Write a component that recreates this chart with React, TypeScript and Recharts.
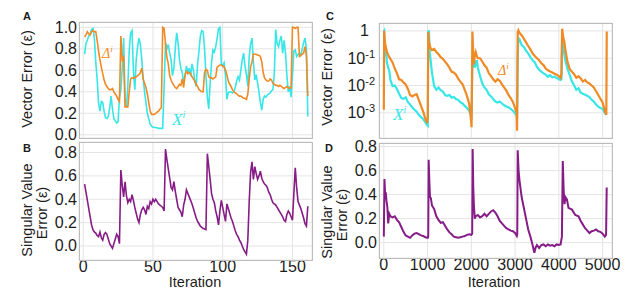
import { LineChart, Line, XAxis, YAxis, CartesianGrid } from "recharts";

const CYAN = "#38e6e8";
const ORANGE = "#f08a24";
const PURPLE = "#861c86";
const INK = "#1c1c1c";
const FONT = "'Liberation Sans', Arial, sans-serif";
const SERIF = "'Liberation Serif', 'Times New Roman', serif";

// ---- panels A / B : iterations 1..161 ----
const ITER_AB = Array.from({ length: 161 }, (_, i) => i + 1);

const XI_A = [
  0.75, 0.85, 0.88, 0.92, 0.94, 0.98, 0.99, 0.9, 0.68, 0.52,
  0.3, 0.22, 0.31, 0.3, 0.22, 0.16, 0.15, 0.17, 0.25, 0.36,
  0.24, 0.15, 0.13, 0.11, 0.12, 0.35, 0.42, 0.62, 0.9, 0.34,
  0.26, 0.45, 0.78, 0.95, 0.97, 0.6, 0.42, 0.7, 0.82, 0.9,
  0.84, 0.7, 0.52, 0.4, 0.3, 0.2, 0.15, 0.1, 0.08, 0.07,
  0.07, 0.065, 0.065, 0.06, 0.06, 0.06, 0.06, 0.45, 0.86, 0.8,
  0.84, 0.76, 0.7, 0.55, 0.62, 0.8, 0.95, 0.86, 0.7, 0.62,
  0.58, 0.48, 0.55, 0.64, 0.58, 0.62, 0.55, 0.66, 0.6, 0.5,
  0.45, 0.66, 0.78, 0.92, 0.97, 0.96, 0.8, 0.55, 0.35, 0.24,
  0.48, 0.67, 0.79, 0.77, 0.82, 0.9, 0.99, 1.0, 0.66, 0.64,
  0.67, 0.55, 0.33, 0.39, 0.4, 0.4, 0.39, 0.4, 0.44, 0.5,
  0.54, 0.51, 0.6, 0.7, 0.76, 0.64, 0.56, 0.45, 0.73, 0.85,
  0.9, 0.68, 0.51, 0.56, 0.48, 0.4, 0.3, 0.23, 0.33, 0.36,
  0.35, 0.37, 0.38, 0.39, 0.41, 0.42, 0.57, 0.98, 0.85, 0.82,
  0.88, 0.92, 0.76, 0.88, 0.76, 0.55, 0.4, 0.45, 0.35, 0.55,
  0.78, 0.79, 0.73, 0.75, 0.76, 0.74, 0.8, 0.86, 0.9, 0.8,
  0.17,
];

const DELTA_A = [
  0.91, 0.93, 0.96, 0.94, 0.93, 0.96, 0.97, 0.96, 0.96, 0.88,
  0.78, 0.7, 0.63, 0.57, 0.51, 0.47, 0.45, 0.43, 0.42, 0.42,
  0.43, 0.4, 0.38, 0.36, 0.33, 0.31, 0.92, 0.7, 0.72, 0.26,
  0.26, 0.26, 0.4, 0.52, 0.53, 0.53, 0.53, 0.54, 0.55, 0.56,
  0.58, 0.62, 0.52, 0.48, 0.44, 0.38, 0.3, 0.22, 0.19, 0.19,
  0.19, 0.2, 0.21, 0.22, 0.24, 0.25, 1.0, 0.99, 0.85, 0.72,
  0.66, 0.55, 0.51, 0.48, 0.46, 0.44, 0.43, 0.45, 0.47, 0.46,
  0.52, 0.44, 0.56, 0.59, 0.57, 0.58, 0.57, 0.54, 0.52, 0.5,
  0.47, 0.45, 0.42, 0.41, 0.4, 0.4, 0.58, 0.61, 0.6, 0.54,
  0.53, 0.53, 0.52, 0.53, 0.54, 0.63, 0.64, 0.65, 0.65, 0.64,
  0.63, 0.6, 0.56, 0.5, 0.47, 0.45, 0.42, 0.4, 0.39, 0.38,
  0.37, 0.36, 0.36, 0.35, 0.34, 0.34, 0.33, 0.38, 0.52, 0.63,
  0.68, 0.75, 0.75, 0.75, 0.74, 0.74, 0.73, 0.68, 0.58, 0.53,
  0.51, 0.5, 0.5, 0.52, 0.51, 0.48, 0.47, 0.46, 0.46, 0.45,
  0.46, 0.45, 0.44, 0.43, 0.44, 0.45, 0.44, 0.43, 0.44, 1.0,
  1.0, 0.99, 1.0, 1.0, 0.73, 0.74, 0.75, 0.76, 0.82, 0.74,
  0.36,
];

const SV_B = [
  0.53, 0.46, 0.39, 0.32, 0.25, 0.18, 0.14, 0.12, 0.11, 0.09,
  0.08, 0.12, 0.07, 0.05, 0.1, 0.115, 0.1, 0.06, 0.02, 0.0,
  -0.02, 0.02, 0.06, 0.1, 0.08, 0.02, 0.65, 0.52, 0.42, 0.55,
  0.43, 0.37, 0.4, 0.38, 0.44, 0.39, 0.33, 0.28, 0.23, 0.2,
  0.27, 0.31, 0.33, 0.31, 0.27, 0.34, 0.32, 0.38, 0.36, 0.4,
  0.38, 0.4, 0.38, 0.36, 0.35, 0.34, 0.33, 0.3, 0.83, 0.74,
  0.66, 0.58, 0.5, 0.48, 0.55, 0.47, 0.4, 0.33, 0.31, 0.29,
  0.25, 0.35, 0.4, 0.48, 0.45, 0.42, 0.39, 0.36, 0.32, 0.28,
  0.24, 0.21, 0.19, 0.17, 0.16, 0.15, 0.145, 0.14, 0.79, 0.68,
  0.57, 0.45, 0.4, 0.37, 0.3, 0.25, 0.18, 0.3, 0.39, 0.33,
  0.27, 0.21, 0.36, 0.32, 0.28, 0.24, 0.21, 0.17, 0.13, 0.1,
  0.08, 0.05, 0.03, 0.0, -0.03, -0.05, -0.07, 0.05, 0.38, 0.63,
  0.72, 0.57, 0.68, 0.62, 0.57, 0.6, 0.64, 0.58, 0.55, 0.53,
  0.52, 0.5, 0.46, 0.44, 0.4, 0.37, 0.36, 0.35, 0.33, 0.31,
  0.29, 0.27, 0.25, 0.22, 0.21, 0.27, 0.3, 0.28, 0.25, 0.22,
  0.45, 0.67, 0.5, 0.38, 0.35, 0.32, 0.28, 0.24, 0.19, 0.17,
  0.34,
];

// ---- panel C : iterations 0..5095 (log scale) ----
const C_ITER = [
  0, 8, 25, 45, 70, 100, 125, 150, 200, 250, 300, 350, 400, 450, 500, 550, 600, 650, 700, 750, 800, 850, 900, 950, 990, 1005,
  1015, 1030, 1050, 1070, 1100, 1150, 1200, 1250, 1300, 1350, 1400, 1450, 1500, 1550, 1600, 1650, 1700, 1750, 1800, 1850, 1900, 1950, 1985, 2005,
  2025, 2040, 2060, 2075, 2100, 2125, 2150, 2200, 2250, 2300, 2350, 2400, 2450, 2500, 2550, 2600, 2650, 2700, 2750, 2800, 2850, 2900, 2950, 3000, 3035, 3045,
  3060, 3075, 3100, 3150, 3200, 3250, 3300, 3350, 3400, 3450, 3500, 3550, 3600, 3650, 3700, 3750, 3800, 3850, 3900, 3950, 4000, 4040, 4060,
  4075, 4100, 4125, 4150, 4200, 4250, 4300, 4350, 4400, 4450, 4500, 4550, 4600, 4650, 4700, 4750, 4800, 4850, 4900, 4950, 5000, 5050, 5085, 5095,
];

const C_DELTA = [
  0.0013, 1.0, 0.4, 0.25, 0.18, 0.13, 0.11, 0.095, 0.07, 0.042, 0.028, 0.017, 0.016, 0.013, 0.011, 0.0075, 0.0045, 0.004, 0.0045, 0.0048, 0.003, 0.0018, 0.0011, 0.0006, 0.00042, 0.0007,
  0.92, 0.4, 0.3, 0.23, 0.2, 0.22, 0.17, 0.14, 0.11, 0.095, 0.075, 0.06, 0.045, 0.032, 0.03, 0.025, 0.018, 0.014, 0.011, 0.007, 0.0042, 0.0022, 0.00075, 0.0003,
  0.95, 0.2, 0.06, 0.12, 0.17, 0.12, 0.1, 0.1, 0.076, 0.055, 0.045, 0.028, 0.022, 0.017, 0.014, 0.017, 0.015, 0.011, 0.0085, 0.0065, 0.0045, 0.0035, 0.0025, 0.0015, 0.001, 0.00022,
  0.9, 1.05, 0.85, 0.7, 0.52, 0.38, 0.28, 0.21, 0.15, 0.12, 0.1, 0.085, 0.065, 0.056, 0.042, 0.036, 0.033, 0.03, 0.027, 0.025, 0.022, 0.019, 0.028,
  1.2, 0.6, 0.4, 0.2, 0.07, 0.04, 0.032, 0.026, 0.019, 0.022, 0.018, 0.014, 0.016, 0.013, 0.012, 0.01, 0.0085, 0.0062, 0.0045, 0.0033, 0.0024, 0.0012, 0.00085, 0.95,
];

const C_XI = [
  0.95, 1.0, 0.12, 0.26, 0.07, 0.045, 0.035, 0.016, 0.0095, 0.01, 0.0075, 0.005, 0.0035, 0.0033, 0.0037, 0.0025, 0.002, 0.0016, 0.0013, 0.0011, 0.00085, 0.0007, 0.0006, 0.00045, 0.00036, 0.00034,
  0.9, 1.05, 0.16, 0.085, 0.03, 0.0095, 0.007, 0.0085, 0.0068, 0.006, 0.0045, 0.0042, 0.0045, 0.0036, 0.0038, 0.0032, 0.003, 0.0024, 0.0022, 0.0018, 0.0015, 0.0012, 0.00085, 0.00055,
  0.08, 0.12, 0.11, 0.045, 0.06, 0.085, 0.045, 0.022, 0.012, 0.0085, 0.007, 0.0048, 0.004, 0.0032, 0.0026, 0.0024, 0.0026, 0.0022, 0.0019, 0.0017, 0.0016, 0.0014, 0.0012, 0.00095, 0.0008, 0.00075,
  0.1, 0.55, 0.5, 0.3, 0.26, 0.19, 0.15, 0.11, 0.085, 0.07, 0.048, 0.038, 0.032, 0.028, 0.025, 0.021, 0.024, 0.02, 0.021, 0.019, 0.017, 0.016, 0.017,
  0.65, 0.3, 0.14, 0.08, 0.04, 0.024, 0.014, 0.01, 0.007, 0.008, 0.0055, 0.005, 0.0046, 0.0042, 0.0038, 0.003, 0.0026, 0.002, 0.0017, 0.0015, 0.0014, 0.001, 0.00085, null,
];

// ---- panel D ----
const D_ITER = [
  0, 15, 30, 45, 60, 80, 100, 125, 150, 200, 250, 300, 350, 400, 450, 500, 550, 600, 650, 700, 750, 800, 850, 900, 950, 1005, 1015,
  1025, 1040, 1055, 1075, 1100, 1150, 1200, 1250, 1300, 1350, 1400, 1450, 1500, 1550, 1600, 1650, 1700, 1750, 1800, 1850, 1900, 1950, 2000, 2020,
  2030, 2045, 2060, 2080, 2100, 2150, 2200, 2250, 2300, 2350, 2400, 2450, 2500, 2550, 2600, 2650, 2700, 2750, 2800, 2850, 2900, 2950, 3000, 3040, 3050,
  3060, 3080, 3100, 3125, 3150, 3200, 3250, 3300, 3350, 3400, 3440, 3470, 3500, 3550, 3600, 3650, 3700, 3750, 3800, 3850, 3900, 3950, 4000, 4040, 4070,
  4090, 4110, 4130, 4150, 4185, 4220, 4300, 4375, 4450, 4500, 4550, 4600, 4650, 4700, 4750, 4800, 4850, 4900, 4950, 5000, 5050, 5080, 5094,
];

const D_SV = [
  0.05, 0.53, 0.4, 0.42, 0.35, 0.3, 0.16, 0.24, 0.22, 0.21, 0.22, 0.19, 0.17, 0.13, 0.09, 0.06, 0.05, 0.04, 0.06, 0.075, 0.08, 0.07, 0.06, 0.055, 0.045, 0.04, 0.05,
  0.69, 0.52, 0.38, 0.37, 0.31, 0.28, 0.22, 0.19, 0.165, 0.17, 0.14, 0.11, 0.085, 0.07, 0.05, 0.045, 0.04, 0.045, 0.05, 0.055, 0.065, 0.07, 0.065, 0.075,
  0.78, 0.45, 0.3, 0.2, 0.22, 0.23, 0.21, 0.22, 0.24, 0.22, 0.24, 0.26, 0.27, 0.25, 0.22, 0.18, 0.16, 0.14, 0.12, 0.11, 0.1, 0.095, 0.08, 0.055, 0.07,
  0.77, 0.6, 0.52, 0.45, 0.38, 0.29, 0.2, 0.11, 0.05, -0.02, -0.085, -0.04, -0.02, -0.045, -0.02, -0.015, -0.03, -0.015, -0.025, -0.02, -0.03, -0.015, -0.02, -0.015, 0.05,
  0.68, 0.44, 0.32, 0.38, 0.36, 0.29, 0.275, 0.23, 0.22, 0.18, 0.15, 0.12, 0.1, 0.08, 0.095, 0.1, 0.11, 0.095, 0.09, 0.075, 0.05, 0.065, 0.46,
];

const AB_X_TICKS = [0, 50, 100, 150];
const CD_X_TICKS = [0, 1000, 2000, 3000, 4000, 5000];
const A_Y_TICKS = [0, 0.2, 0.4, 0.6, 0.8, 1.0];
const SV_Y_TICKS = [0, 0.2, 0.4, 0.6, 0.8];
const C_Y_TICKS = [0.001, 0.01, 0.1, 1];

const PLOT_A = { x: 79, y: 22, w: 233, h: 116 };
const PLOT_B = { x: 79, y: 142, w: 233, h: 118 };
const PLOT_C = { x: 379, y: 23, w: 233, h: 115 };
const PLOT_D = { x: 379, y: 143, w: 233, h: 115 };
const Y_AXIS_W = 70;
const X_AXIS_H = 30;
const PAD_T = 12;
const PAD_R = 24;
const PAD_B = 12;

const LinTick = ({ x, y, payload }: any) => (
  <text x={x} y={y} dy={5.5} textAnchor="end" fontSize={16} fontFamily={FONT} fill={INK}>
    {Number(payload.value).toFixed(1)}
  </text>
);

const LogTick = ({ x, y, payload }: any) => {
  const e = Math.round(Math.log10(payload.value));
  if (e === 0) {
    return (
      <text x={x - 8} y={y} dy={5.5} textAnchor="end" fontSize={16} fontFamily={FONT} fill={INK}>1</text>
    );
  }
  return (
    <text x={x - 2} y={y} dy={5.5} textAnchor="end" fontSize={16} fontFamily={FONT} fill={INK}>
      <tspan>10</tspan>
      <tspan dy={-6} fontSize={11}>{e}</tspan>
    </text>
  );
};

const XTick = ({ x, y, payload }: any) => (
  <text x={x} y={y} dy={12} textAnchor="middle" fontSize={16} fontFamily={FONT} fill={INK}>
    {payload.value}
  </text>
);

function Panel({ rect, data, xDomain, xTicks, yDomain, yTicks, logY, showX, lines }: any) {
  const bottom = showX ? 0 : PAD_B;
  const W = Y_AXIS_W + rect.w + PAD_R;
  const H = PAD_T + rect.h + (showX ? X_AXIS_H : 0) + bottom;
  return (
    <div style={{ position: "absolute", left: rect.x - Y_AXIS_W, top: rect.y - PAD_T }}>
      <LineChart width={W} height={H} data={data} margin={{ top: PAD_T, right: PAD_R, left: 0, bottom }}>
        <CartesianGrid stroke="#e4e4e4" strokeWidth={1} />
        <XAxis
          dataKey="it"
          type="number"
          domain={xDomain}
          ticks={xTicks}
          interval={0}
          allowDataOverflow
          hide={!showX}
          height={showX ? X_AXIS_H : 0}
          axisLine={false}
          tickLine={false}
          tickSize={0}
          tickMargin={0}
          tick={<XTick />}
        />
        <YAxis
          type="number"
          scale={logY ? "log" : "auto"}
          domain={yDomain}
          ticks={yTicks}
          interval={0}
          allowDataOverflow
          width={Y_AXIS_W}
          axisLine={false}
          tickLine={false}
          tickSize={0}
          tickMargin={2}
          tick={logY ? <LogTick /> : <LinTick />}
        />
        {lines.map((l: any) => (
          <Line
            key={l.key}
            type="linear"
            dataKey={l.key}
            stroke={l.color}
            strokeWidth={l.width}
            dot={false}
            isAnimationActive={false}
          />
        ))}
      </LineChart>
    </div>
  );
}

const Frame = ({ r }: any) => (
  <rect x={r.x + 0.5} y={r.y + 0.5} width={r.w} height={r.h} fill="none" stroke="#bdbdbd" strokeWidth={1} />
);

export default function App() {
  const dataA = ITER_AB.map((it, i) => ({ it, xi: XI_A[i], delta: DELTA_A[i] }));
  const dataB = ITER_AB.map((it, i) => ({ it, sv: SV_B[i] }));
  const dataC = C_ITER.map((it, i) => ({ it, xi: C_XI[i], delta: C_DELTA[i] }));
  const dataD = D_ITER.map((it, i) => ({ it, sv: D_SV[i] }));

  const titleStyle = { fontFamily: FONT, fontSize: 14.5, fill: INK };

  return (
    <div style={{ position: "absolute", left: 0, top: 0, width: 640, height: 291, background: "#fff", overflow: "hidden" }}>
      <Panel
        rect={PLOT_A}
        data={dataA}
        xDomain={[-3, 164]}
        xTicks={AB_X_TICKS}
        yDomain={[-0.03, 1.05]}
        yTicks={A_Y_TICKS}
        lines={[
          { key: "xi", color: CYAN, width: 1.6 },
          { key: "delta", color: ORANGE, width: 1.6 },
        ]}
      />
      <Panel
        rect={PLOT_B}
        data={dataB}
        xDomain={[-3, 164]}
        xTicks={AB_X_TICKS}
        yDomain={[-0.12, 0.89]}
        yTicks={SV_Y_TICKS}
        showX
        lines={[{ key: "sv", color: PURPLE, width: 1.6 }]}
      />
      <Panel
        rect={PLOT_C}
        data={dataC}
        xDomain={[-110, 5215]}
        xTicks={CD_X_TICKS}
        yDomain={[1.2e-4, 1.95]}
        yTicks={C_Y_TICKS}
        logY
        lines={[
          { key: "xi", color: CYAN, width: 2.2 },
          { key: "delta", color: ORANGE, width: 2.2 },
        ]}
      />
      <Panel
        rect={PLOT_D}
        data={dataD}
        xDomain={[-110, 5215]}
        xTicks={CD_X_TICKS}
        yDomain={[-0.128, 0.83]}
        yTicks={SV_Y_TICKS}
        showX
        lines={[{ key: "sv", color: PURPLE, width: 2 }]}
      />

      <svg width={640} height={291} style={{ position: "absolute", left: 0, top: 0, pointerEvents: "none" }}>
        <Frame r={PLOT_A} />
        <Frame r={PLOT_B} />
        <Frame r={PLOT_C} />
        <Frame r={PLOT_D} />

        <g fontFamily={FONT} fontWeight="bold" fontSize={11} fill={INK}>
          <text x={23} y={20}>A</text>
          <text x={23} y={152}>B</text>
          <text x={326} y={20}>C</text>
          <text x={325} y={152}>D</text>
        </g>

        <text transform="translate(32,79) rotate(-90)" textAnchor="middle" {...titleStyle}>Vector Error (ε)</text>
        <text transform="translate(332,77) rotate(-90)" textAnchor="middle" {...titleStyle}>Vector Error (ε)</text>
        <text transform="translate(32,210) rotate(-90)" textAnchor="middle" {...titleStyle}>Singular Value</text>
        <text transform="translate(47,213) rotate(-90)" textAnchor="middle" {...titleStyle}>Error (ε)</text>
        <text transform="translate(332,212) rotate(-90)" textAnchor="middle" {...titleStyle}>Singular Value</text>
        <text transform="translate(347,215) rotate(-90)" textAnchor="middle" {...titleStyle}>Error (ε)</text>
        <text x={195} y={286.5} textAnchor="middle" {...titleStyle}>Iteration</text>
        <text x={494} y={286.5} textAnchor="middle" {...titleStyle}>Iteration</text>

        <text x={102} y={58} fontFamily={SERIF} fontStyle="italic" fontSize={14} fill={ORANGE}>
          Δ<tspan dy={-6} fontSize={9}>i</tspan>
        </text>
        <text x={172} y={125} fontFamily={SERIF} fontStyle="italic" fontSize={17} fill={CYAN}>
          X<tspan dy={-7} fontSize={10}>i</tspan>
        </text>
        <text x={498} y={75} fontFamily={SERIF} fontStyle="italic" fontSize={14} fill={ORANGE}>
          Δ<tspan dy={-6} fontSize={9}>i</tspan>
        </text>
        <text x={393} y={120} fontFamily={SERIF} fontStyle="italic" fontSize={17} fill={CYAN}>
          X<tspan dy={-7} fontSize={10}>i</tspan>
        </text>
      </svg>
    </div>
  );
}
